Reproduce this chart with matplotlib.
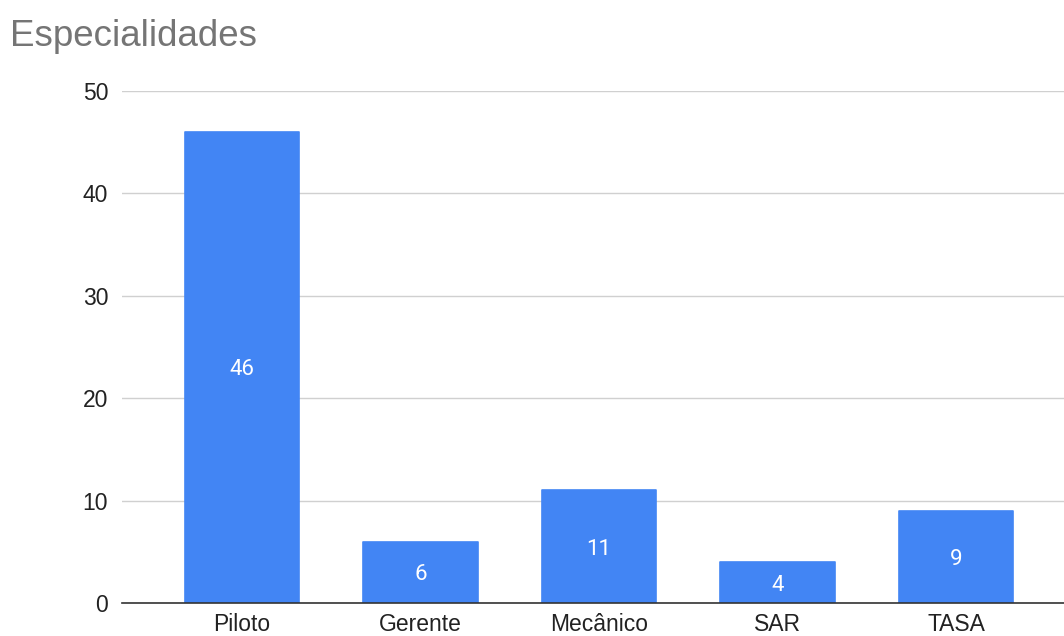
import matplotlib.pyplot as plt

# especialidades e quantidades
categorias = ['Piloto', 'Gerente', 'Mecânico', 'SAR', 'TASA']
quantidades = [46, 6, 11, 4, 9]

azul = '#4285F4'

fig = plt.figure(figsize=(10.64, 6.36), dpi=100)
ax = fig.add_axes([122 / 1064, 33 / 636, 1 - 122 / 1064, 512 / 636])

x = list(range(len(categorias)))
ax.bar(x, quantidades, width=0.64, color=azul, edgecolor=azul,
       linewidth=1.2, joinstyle='round', zorder=3)
# rótulo de valor no meio de cada barra
for xi, v in zip(x, quantidades):
    ax.text(xi, v / 2, str(v), ha='center', va='center_baseline', color='white',
            fontsize=16, family='Roboto', zorder=4)

ax.set_xlim(-0.672, 4.605)
ax.set_ylim(0, 50)
ax.set_yticks([0, 10, 20, 30, 40, 50])
ax.set_xticks(x)
ax.set_xticklabels(categorias)
ax.grid(axis='y', color='#d0d0d0', linewidth=1, zorder=0)

for side in ['top', 'right', 'left']:
    ax.spines[side].set_visible(False)
ax.spines['bottom'].set_color('#333333')
ax.spines['bottom'].set_linewidth(1.2)
ax.spines['bottom'].set_zorder(4)

ax.tick_params(axis='both', length=0, labelsize=16.5, labelcolor='#222222')
ax.tick_params(axis='y', pad=10)
ax.tick_params(axis='x', pad=7)
for lbl in ax.get_xticklabels() + ax.get_yticklabels():
    lbl.set_family('Liberation Sans')

fig.text(10 / 1064, 1 - 36 / 636, 'Especialidades', fontsize=26.5, color='#757575',
         family='Liberation Sans', va='center', ha='left')

fig.savefig('out.png', dpi=100)
